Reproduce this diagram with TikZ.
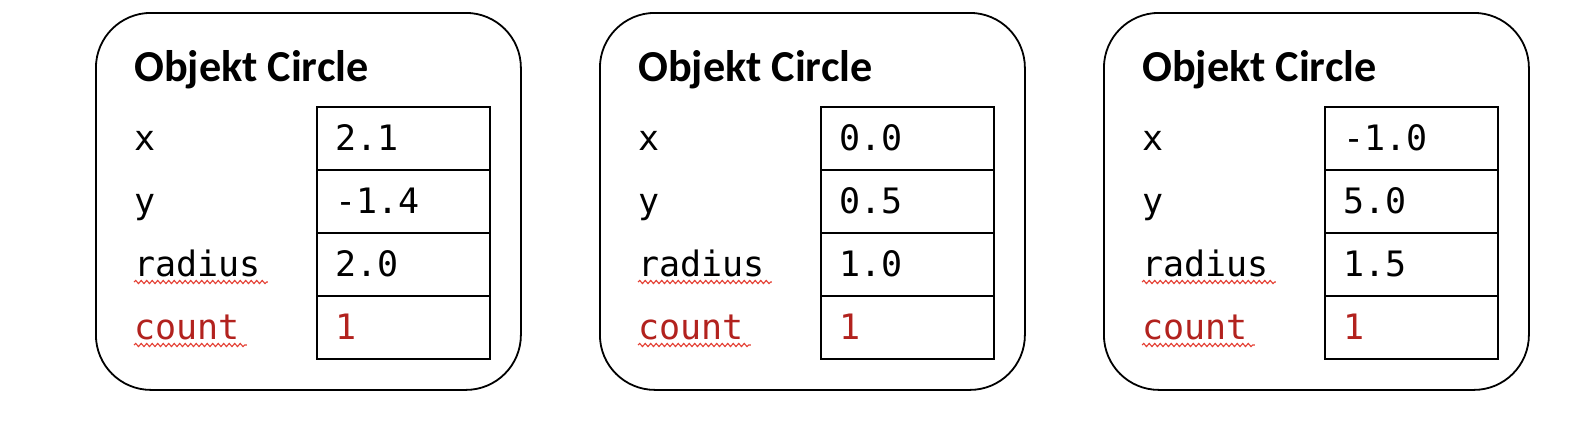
\documentclass[tikz,border=0pt]{standalone}
\usepackage{fontspec}
\setmainfont{Carlito}
\setmonofont{DejaVu Sans Mono}
\usetikzlibrary{decorations.pathmorphing}
\definecolor{countred}{RGB}{178,34,30}
\definecolor{squigred}{RGB}{228,64,52}

\begin{document}
\begin{tikzpicture}[x=1pt,y=-1pt,
        objbox/.style={draw,line width=1.8pt,rounded corners=55pt,
            minimum width=425pt,minimum height=377pt,anchor=north west,inner sep=0pt},
        cell/.style={draw,line width=2.2pt,minimum width=173pt,
            minimum height=63pt,anchor=north west,inner sep=0pt},
        titletext/.style={anchor=base west,inner sep=0pt,
            font=\bfseries\fontsize{44.2}{50}\selectfont},
        monotext/.style={anchor=base west,inner sep=0pt,
            font=\ttfamily\fontsize{35}{40}\selectfont},
        squiggle/.style={squigred,line width=1.1pt,
            decorate,decoration={snake,segment length=5.5pt,amplitude=1.6pt}}
    ]
    \useasboundingbox (0,0) rectangle (1578,434);
    \foreach \bx/\vx/\vy/\vr [count=\i] in {0/2.1/-1.4/2.0, 504/0.0/0.5/1.0, 1008/-1.0/5.0/1.5} {
        \node[objbox] (obj\i) at (95+\bx,12) {};
        \node[titletext] (title\i) at (134+\bx,81) {Objekt Circle};
        \foreach \lab/\val/\col [count=\r] in {x/\vx/black, y/\vy/black, radius/\vr/black, count/1/countred} {
            \node[cell] (cell\i\r) at (316+\bx,106+63*\r-63) {};
            \node[monotext,text=\col] (lab\i\r) at (134+\bx,150+63*\r-63) {\lab};
            \node[monotext,text=\col] (val\i\r) at ([xshift=19pt,yshift=-44pt]cell\i\r.north west) {\val};
            \ifnum\r>2
                \draw[squiggle] ([yshift=-6pt]lab\i\r.base west) -- ([xshift=7pt,yshift=-6pt]lab\i\r.base east);
            \fi
        }
    }
\end{tikzpicture}
\end{document}
